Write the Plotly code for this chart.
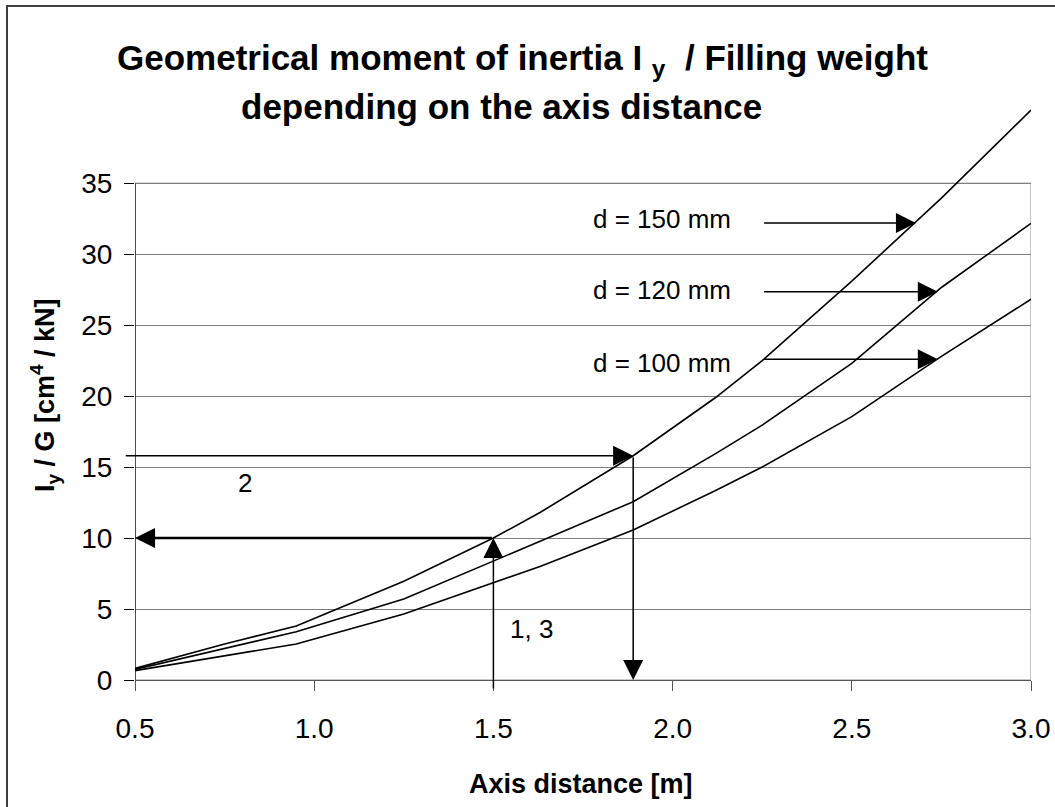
import plotly.graph_objects as go

# ---- data ----
axis_distance = [0.5, 0.75, 0.95, 1.25, 1.5, 1.63, 1.89, 2.12, 2.25, 2.5, 2.75, 3.0]
d150 = [0.82, 2.53, 3.8, 6.95, 10.0, 11.8, 15.8, 19.9, 22.5, 28.1, 33.95, 40.15]
d120 = [0.75, 2.23, 3.4, 5.7, 8.4, 9.75, 12.56, 15.95, 17.95, 22.3, 27.65, 32.17]
d100 = [0.66, 1.71, 2.54, 4.65, 6.85, 8.0, 10.57, 13.35, 15.0, 18.55, 22.8, 26.82]

series_names = ["d = 150 mm", "d = 120 mm", "d = 100 mm"]
label_x = [1.97, 1.97, 1.97]
label_y = [32.5, 27.5, 22.3]
label_arrow_tail_x = [2.251, 2.251, 2.251]
label_arrow_head_x = [2.679, 2.74, 2.74]
label_arrow_y = [32.2, 27.35, 22.6]

x_ticks = [0.5, 1.0, 1.5, 2.0, 2.5, 3.0]
x_tick_text = ["0.5", "1.0", "1.5", "2.0", "2.5", "3.0"]
y_ticks = [0, 5, 10, 15, 20, 25, 30, 35]

# example reading path
ex1_x, ex1_y = 1.5, 10.0
ex2_x, ex2_y = 1.89, 15.8

FONT = "Liberation Sans, Arial, sans-serif"
W, H = 1055, 807
L, R, T, B = 135, 24, 98, 127

fig = go.Figure()
for ys in (d150, d120, d100):
    fig.add_trace(go.Scatter(x=axis_distance, y=ys, mode="lines",
                             line=dict(color="black", width=1.6),
                             showlegend=False, hoverinfo="skip"))

# plot frame up to 35 and left axis line
fig.add_shape(type="rect", x0=0.5, x1=3.0, y0=0, y1=35, xref="x", yref="y",
              line=dict(color="#909090", width=1), layer="below")
fig.add_shape(type="line", x0=0.5, x1=0.5, y0=0, y1=35, xref="x", yref="y",
              line=dict(color="black", width=1.2))

def px2paper_x(px):
    return (px - L) / (W - L - R)

def px2paper_y(py):
    return (H - B - py) / (H - T - B)

# outer border
fig.add_shape(type="rect", xref="paper", yref="paper",
              x0=px2paper_x(7), x1=px2paper_x(1070),
              y0=px2paper_y(830), y1=px2paper_y(6),
              line=dict(color="#404040", width=2))

ann = []
def arrow(x_head, y_head, x_tail, y_tail, width=1.5, size=2.67):
    ann.append(dict(x=x_head, y=y_head, ax=x_tail, ay=y_tail,
                    xref="x", yref="y", axref="x", ayref="y",
                    text="", showarrow=True, arrowhead=2, arrowsize=size,
                    arrowwidth=width, arrowcolor="black", standoff=0))

# reading path arrows
arrow(ex1_x, ex1_y, ex1_x, -0.7)                       # 1: up
arrow(0.5, ex1_y, ex1_x, ex1_y, width=2.4, size=1.67)  # left at y=10
arrow(ex2_x, ex2_y, 0.47, ex2_y)                       # 2: right
arrow(ex2_x, 0, ex2_x, ex2_y)                          # 3: down

for name, lx, ly, tx, hx, ay in zip(series_names, label_x, label_y,
                                    label_arrow_tail_x, label_arrow_head_x, label_arrow_y):
    ann.append(dict(x=lx, y=ly, xref="x", yref="y", text=name, showarrow=False,
                    xanchor="center", yanchor="middle",
                    font=dict(family=FONT, size=26, color="black")))
    arrow(hx, ay, tx, ay)

ann.append(dict(x=0.807, y=13.9, xref="x", yref="y", text="2", showarrow=False,
                xanchor="center", yanchor="middle",
                font=dict(family=FONT, size=26, color="black")))
ann.append(dict(x=1.605, y=3.6, xref="x", yref="y", text="1, 3", showarrow=False,
                xanchor="center", yanchor="middle",
                font=dict(family=FONT, size=26, color="black")))

# titles
ann.append(dict(x=px2paper_x(522), y=px2paper_y(60), xref="paper", yref="paper",
                xanchor="center", yanchor="middle",
                text="<b>Geometrical moment of inertia I&nbsp;<sub>y</sub>&nbsp;&nbsp;/ Filling weight</b>",
                showarrow=False, font=dict(family=FONT, size=35, color="black")))
ann.append(dict(x=px2paper_x(501), y=px2paper_y(107), xref="paper", yref="paper",
                xanchor="center", yanchor="middle",
                text="<b>depending on the axis distance</b>",
                showarrow=False, font=dict(family=FONT, size=35, color="black")))
ann.append(dict(x=px2paper_x(581), y=px2paper_y(784), xref="paper", yref="paper",
                xanchor="center", yanchor="middle",
                text="<b>Axis distance [m]</b>",
                showarrow=False, font=dict(family=FONT, size=27, color="black")))
ann.append(dict(x=px2paper_x(45), y=px2paper_y(395), xref="paper", yref="paper",
                xanchor="center", yanchor="middle",
                text="<b>I<sub>y</sub> / G [cm<sup>4</sup> / kN]</b>", textangle=-90,
                showarrow=False, font=dict(family=FONT, size=27, color="black")))

fig.update_layout(
    template="none",
    width=W, height=H,
    margin=dict(l=L, r=R, t=T, b=B, pad=0, autoexpand=False),
    paper_bgcolor="white", plot_bgcolor="white",
    showlegend=False,
    annotations=ann,
    xaxis=dict(range=[0.5, 3.0], tickvals=x_ticks, ticktext=x_tick_text,
               automargin=False,
               showgrid=False, zeroline=False, showline=True, linecolor="#555555",
               linewidth=1, ticks="outside", ticklen=10, tickcolor="#555555",
               ticklabelstandoff=13,
               tickfont=dict(family=FONT, size=28, color="black")),
    yaxis=dict(range=[0, 41], tickvals=y_ticks, showgrid=True, gridcolor="#808080",
               automargin=False,
               gridwidth=1, zeroline=False, showline=False, ticks="outside",
               ticklen=10, tickcolor="black", ticklabelstandoff=6,
               tickfont=dict(family=FONT, size=28, color="black")),
)

fig.write_html("out.html", config={"displayModeBar": False},
               post_script="document.body.style.margin='0';document.body.style.overflow='hidden';")
